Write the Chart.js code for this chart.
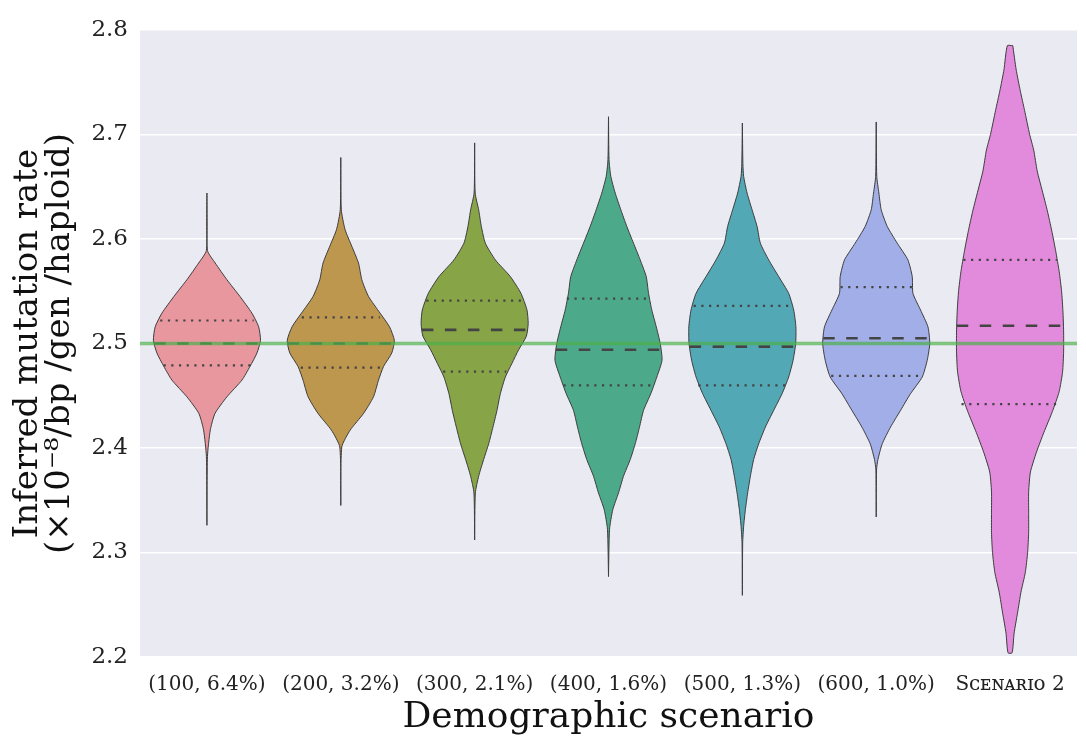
<!DOCTYPE html>
<html>
<head>
<meta charset="utf-8">
<script src="https://cdn.jsdelivr.net/npm/chart.js@4.4.1/dist/chart.umd.min.js"></script>
<style>
  html, body { margin: 0; padding: 0; background: #fff; }
  #wrap { width: 1086px; height: 740px; }
</style>
</head>
<body>
<div id="wrap"><canvas id="chart" width="1086" height="740"></canvas></div>
<script>
// categories
const scenarios = ['(100, 6.4%)', '(200, 3.2%)', '(300, 2.1%)', '(400, 1.6%)', '(500, 1.3%)', '(600, 1.0%)', 'Sᴄᴇɴᴀʀɪᴏ 2']

// violin outlines: rate levels (top -> bottom) and relative density (1 = widest)
const rate100 = [2.644, 2.589, 2.577, 2.561, 2.545, 2.529, 2.516, 2.503, 2.491, 2.478, 2.465, 2.449, 2.433, 2.417, 2.392, 2.326]
const dens100 = [0, 0.01, 0.155, 0.374, 0.617, 0.841, 0.966, 1.0, 0.935, 0.804, 0.654, 0.374, 0.150, 0.062, 0.01, 0]

const rate200 = [2.678, 2.628, 2.609, 2.593, 2.577, 2.561, 2.545, 2.529, 2.516, 2.503, 2.491, 2.478, 2.465, 2.449, 2.433, 2.417, 2.401, 2.345]
const dens200 = [0, 0.01, 0.08, 0.206, 0.331, 0.393, 0.518, 0.735, 0.91, 1.0, 0.953, 0.798, 0.705, 0.611, 0.424, 0.174, 0.019, 0]

const rate300 = [2.692, 2.644, 2.628, 2.612, 2.596, 2.580, 2.564, 2.548, 2.532, 2.519, 2.507, 2.494, 2.481, 2.468, 2.452, 2.436, 2.420, 2.404, 2.389, 2.373, 2.357, 2.312]
const dens300 = [0, 0.01, 0.075, 0.125, 0.2, 0.387, 0.667, 0.865, 0.978, 1.0, 0.966, 0.822, 0.697, 0.574, 0.48, 0.417, 0.342, 0.262, 0.168, 0.075, 0.013, 0]

const rate400 = [2.717, 2.676, 2.660, 2.644, 2.628, 2.612, 2.596, 2.580, 2.564, 2.548, 2.532, 2.516, 2.500, 2.484, 2.468, 2.452, 2.436, 2.420, 2.404, 2.389, 2.373, 2.357, 2.341, 2.322, 2.277]
const dens400 = [0, 0.01, 0.043, 0.125, 0.23, 0.342, 0.467, 0.592, 0.705, 0.748, 0.809, 0.892, 0.966, 1.0, 0.903, 0.79, 0.654, 0.579, 0.499, 0.406, 0.28, 0.187, 0.08, 0.019, 0]

const rate500 = [2.711, 2.672, 2.660, 2.644, 2.628, 2.612, 2.596, 2.580, 2.564, 2.548, 2.532, 2.516, 2.500, 2.484, 2.468, 2.452, 2.436, 2.420, 2.404, 2.389, 2.373, 2.357, 2.341, 2.325, 2.309, 2.259]
const dens500 = [0, 0.01, 0.024, 0.088, 0.181, 0.275, 0.336, 0.492, 0.679, 0.865, 0.959, 1.0, 0.996, 0.948, 0.865, 0.742, 0.585, 0.43, 0.305, 0.211, 0.15, 0.099, 0.056, 0.024, 0.006, 0]

const rate600 = [2.712, 2.660, 2.644, 2.628, 2.612, 2.596, 2.580, 2.564, 2.548, 2.532, 2.516, 2.500, 2.484, 2.468, 2.452, 2.436, 2.420, 2.404, 2.389, 2.379, 2.334]
const dens600 = [0, 0.01, 0.05, 0.093, 0.206, 0.393, 0.592, 0.673, 0.686, 0.828, 0.966, 1.0, 0.953, 0.86, 0.641, 0.454, 0.267, 0.112, 0.032, 0.006, 0]

const rateS2 = [2.785, 2.762, 2.742, 2.723, 2.700, 2.685, 2.665, 2.646, 2.627, 2.608, 2.588, 2.569, 2.550, 2.531, 2.512, 2.492, 2.473, 2.454, 2.435, 2.415, 2.396, 2.377, 2.358, 2.338, 2.319, 2.300, 2.281, 2.262, 2.242, 2.223, 2.204]
const densS2 = [0.051, 0.114, 0.19, 0.271, 0.366, 0.442, 0.507, 0.602, 0.696, 0.778, 0.854, 0.917, 0.962, 0.987, 1.0, 1.0, 0.981, 0.917, 0.791, 0.632, 0.493, 0.38, 0.347, 0.347, 0.347, 0.328, 0.285, 0.203, 0.139, 0.076, 0.038]

// quartiles and their relative density
const upperQuartile = [2.522, 2.525, 2.541, 2.543, 2.536, 2.554, 2.580]
const upperDens     = [0.873, 0.729, 0.903, 0.779, 0.91, 0.667, 0.873]
const medians       = [2.500, 2.500, 2.513, 2.494, 2.497, 2.505, 2.517]
const medianDens    = [0.985, 0.996, 0.985, 0.985, 0.985, 0.99, 0.996]
const lowerQuartile = [2.479, 2.477, 2.473, 2.460, 2.460, 2.469, 2.442]
const lowerDens     = [0.81, 0.748, 0.589, 0.841, 0.822, 0.841, 0.907]

const trueRate = 2.5
const yTicks = [2.2, 2.3, 2.4, 2.5, 2.6, 2.7, 2.8]

const rates = [rate100, rate200, rate300, rate400, rate500, rate600, rateS2]
const densities = [dens100, dens200, dens300, dens400, dens500, dens600, densS2]
const colors = ['#E8979F', '#BD974E', '#87A447', '#4CAA8B', '#52A8B5', '#A1AEE8', '#E28ADC']

const HALF = 0.4
const SERIF = '"DejaVu Serif", "Liberation Serif", serif'

function outline(i) {
  const right = rates[i].map((v, k) => ({ x: i + densities[i][k] * HALF, y: v }))
  const left  = rates[i].map((v, k) => ({ x: i - densities[i][k] * HALF, y: v })).reverse()
  return right.concat(left, [right[0]])
}

function crossLine(i, value, dens) {
  return [{ x: i - dens * HALF, y: value }, { x: i + dens * HALF, y: value }]
}

const datasets = []
scenarios.forEach((s, i) => {
  datasets.push({
    data: outline(i), showLine: true, fill: 'shape', backgroundColor: colors[i],
    borderColor: '#3d3d3d', borderWidth: 1, pointRadius: 0, tension: 0.2, order: 3
  })
  datasets.push({ data: crossLine(i, upperQuartile[i], upperDens[i]), showLine: true, borderColor: '#444',
    borderWidth: 2.2, borderDash: [2.2, 5.5], pointRadius: 0, order: 2 })
  datasets.push({ data: crossLine(i, medians[i], medianDens[i]), showLine: true, borderColor: '#444',
    borderWidth: 2.6, borderDash: [11.5, 11.5], pointRadius: 0, order: 2 })
  datasets.push({ data: crossLine(i, lowerQuartile[i], lowerDens[i]), showLine: true, borderColor: '#444',
    borderWidth: 2.2, borderDash: [2.2, 5.5], pointRadius: 0, order: 2 })
})
datasets.push({
  data: [{ x: -0.5, y: trueRate }, { x: scenarios.length - 0.5, y: trueRate }], showLine: true,
  borderColor: 'rgba(77,175,74,0.7)', borderWidth: 3.6, pointRadius: 0, order: 1
})

const plotBg = {
  id: 'plotBg',
  beforeDraw(chart) {
    const { ctx, chartArea: a } = chart
    ctx.save()
    ctx.fillStyle = '#EAEAF2'
    ctx.fillRect(a.left, a.top, a.width, a.height)
    ctx.restore()
  }
}

new Chart(document.getElementById('chart'), {
  type: 'scatter',
  data: { datasets },
  plugins: [plotBg],
  options: {
    responsive: false,
    animation: false,
    layout: { padding: { top: 30, right: 9, left: 0, bottom: 0 } },
    plugins: { legend: { display: false }, tooltip: { enabled: false } },
    scales: {
      x: {
        type: 'linear', min: -0.5, max: scenarios.length - 0.5,
        afterBuildTicks: s => { s.ticks = scenarios.map((_, i) => ({ value: i })) },
        afterFit: s => { s.height = 83 },
        grid: { display: false }, border: { display: false },
        ticks: { autoSkip: false, maxRotation: 0, padding: 8, color: '#222',
          font: { family: SERIF, size: 20 }, callback: (v, idx) => scenarios[idx] },
        title: { display: true, text: 'Demographic scenario', color: '#111',
          font: { family: SERIF, size: 36, lineHeight: 1.0 }, padding: { top: 0, bottom: 4 } }
      },
      y: {
        type: 'linear', min: 2.2, max: 2.8,
        afterBuildTicks: s => { s.ticks = yTicks.map(v => ({ value: v })) },
        afterFit: s => { s.width = 140 },
        grid: { color: '#fff', lineWidth: 1.6, drawTicks: false }, border: { display: false },
        ticks: { padding: 12, color: '#222', font: { family: SERIF, size: 23 }, callback: v => v.toFixed(1) },
        title: { display: true, text: ['Inferred mutation rate', '(×10⁻⁸/bp /gen /haploid)'], color: '#111',
          font: { family: SERIF, size: 34, lineHeight: 0.95 }, padding: { top: 12, bottom: 0 } }
      }
    }
  }
})
</script>
</body>
</html>
